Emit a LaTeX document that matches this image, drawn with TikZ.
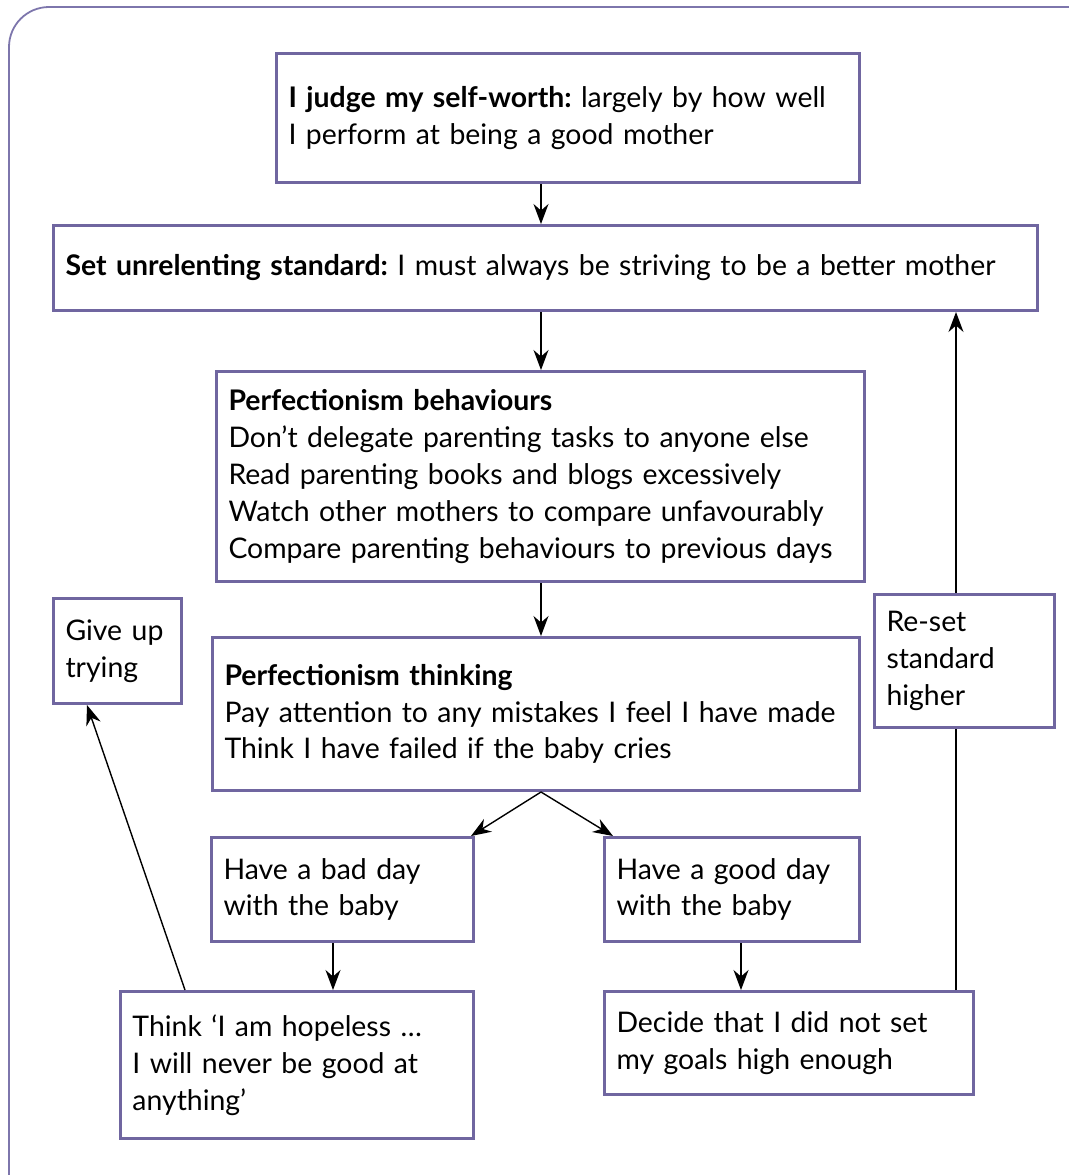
\documentclass[tikz,border=0pt]{standalone}
\usepackage{fontspec}
\setmainfont{Lato}
\frenchspacing
\usetikzlibrary{arrows.meta,calc}

\definecolor{boxline}{RGB}{112,102,160}
\definecolor{frameline}{RGB}{125,118,172}

\tikzset{
    box/.style={draw=boxline, line width=1.5pt, anchor=north west, align=left,
        inner xsep=6pt, inner ysep=0pt,
        font=\fontsize{14.2}{18.4}\selectfont},
    arr/.style={-{Stealth[length=10pt,width=7.5pt]}, line width=0.7pt},
}

\begin{document}
\begin{tikzpicture}[x=0.5pt,y=-0.5pt]
    \useasboundingbox (0,0) rectangle (1069,1175);
    \draw[frameline, line width=0.9pt, rounded corners=20pt]
        (9,1200) -- (9,7) -- (1100,7);
    %% boxes
    \node[box, minimum width=291.5pt, minimum height=64.5pt, text width=279.5pt]
        (worth) at (275,52)
        {\textbf{I judge my self-worth:} largely by how well\\I perform at being a good mother};
    \node[box, minimum width=492pt, minimum height=42.5pt, text width=480pt]
        (standard) at (52,224)
        {\textbf{Set unrelenting standard:} I must always be striving to be a better mother};
    \node[box, minimum width=324pt, minimum height=105pt, text width=312pt]
        (behav) at (215,370)
        {\textbf{Perfectionism behaviours}\\
         Don’t delegate parenting tasks to anyone else\\
         Read parenting books and blogs excessively\\
         Watch other mothers to compare unfavourably\\
         Compare parenting behaviours to previous days};
    \node[box, minimum width=323.5pt, minimum height=76.5pt, text width=311.5pt]
        (think) at (211,636)
        {\textbf{Perfectionism thinking}\\
         Pay attention to any mistakes I feel I have made\\
         Think I have failed if the baby cries};
    \node[box, minimum width=64pt, minimum height=52.5pt, text width=52pt]
        (giveup) at (52,597) {Give up\\trying};
    \node[box, minimum width=90pt, minimum height=66.5pt, text width=78pt]
        (reset) at (873,593) {Re-set\\standard\\higher};
    \node[box, minimum width=131pt, minimum height=52pt, text width=119pt]
        (bad) at (210,836) {Have a bad day\\with the baby};
    \node[box, minimum width=127.5pt, minimum height=52pt, text width=115.5pt]
        (good) at (603,836) {Have a good day\\with the baby};
    \node[box, minimum width=176.5pt, minimum height=73.5pt, text width=164.5pt]
        (hopeless) at (119,990)
        {Think ‘I am hopeless …\\I will never be good at\\anything’};
    \node[box, minimum width=184.5pt, minimum height=51.5pt, text width=172.5pt]
        (decide) at (603,990)
        {Decide that I did not set\\my goals high enough};
    %% columns for the connectors
    \coordinate (colA) at (541,0);
    \coordinate (colB) at (333,0);
    \coordinate (colC) at (741,0);
    \coordinate (colD) at (956,0);
    %% connectors
    \draw[arr] (worth.south -| colA) -- (standard.north -| colA);
    \draw[arr] (standard.south -| colA) -- (behav.north -| colA);
    \draw[arr] (behav.south -| colA) -- (think.north -| colA);
    \draw[arr] (think.south -| colA) -- ([xshift=-2pt]bad.north east);
    \draw[arr] (think.south -| colA) -- ([xshift=5pt]good.north west);
    \draw[arr] (bad.south -| colB) -- (hopeless.north -| colB);
    \draw[arr] (good.south -| colC) -- (decide.north -| colC);
    \draw[arr] ([xshift=33pt]hopeless.north west) -- ([xshift=17.5pt]giveup.south west);
    \draw[line width=0.7pt] (decide.north -| colD) -- (reset.south -| colD);
    \draw[arr] (reset.north -| colD) -- (standard.south -| colD);
\end{tikzpicture}
\end{document}
